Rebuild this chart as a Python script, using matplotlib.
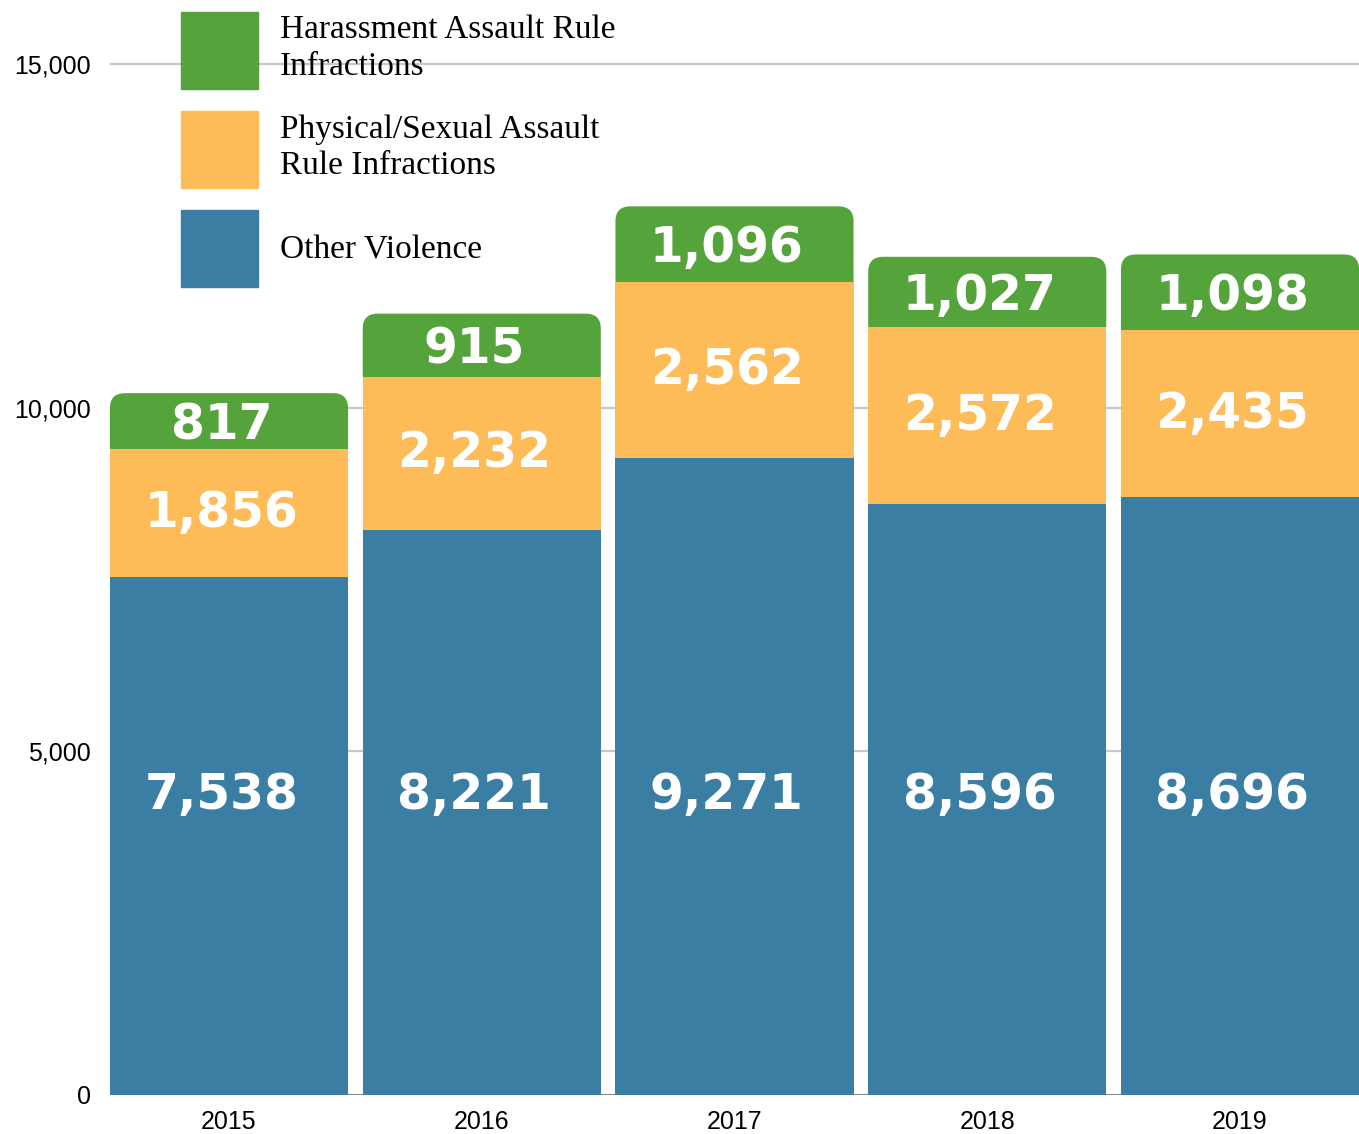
import numpy as np
import matplotlib
matplotlib.use("Agg")
import matplotlib.pyplot as plt
from matplotlib.patches import FancyBboxPatch, Patch, Rectangle


years = ["2015", "2016", "2017", "2018", "2019"]
other_violence = [7538, 8221, 9271, 8596, 8696]
physical_sexual = [1856, 2232, 2562, 2572, 2435]
harassment = [817, 915, 1096, 1027, 1098]

yticks = [0, 5000, 10000, 15000]
ytick_labels = ["0", "5,000", "10,000", "15,000"]

legend_labels = ["Harassment Assault Rule\nInfractions",
                 "Physical/Sexual Assault\nRule Infractions",
                 "Other Violence"]

blue = "#3b7ea4"
orange = "#fdbc58"
green = "#55a43b"


W, H = 1359, 1134
fig = plt.figure(figsize=(W / 100, H / 100), dpi=100)
ax = fig.add_axes([110 / W, 1 - 1095 / H, 1 - 110 / W, 1095 / H])

x = np.arange(len(years))
width = 0.942
xlim = (-0.4708, len(years) - 1 + 0.4708)
ylim = (0, 15931)
ax.set_xlim(*xlim)
ax.set_ylim(*ylim)

blue_arr = np.array(other_violence)
orange_arr = np.array(physical_sexual)
green_arr = np.array(harassment)

ax.bar(x, blue_arr, width=width, color=blue, zorder=3)
ax.bar(x, orange_arr, bottom=blue_arr, width=width, color=orange, zorder=3)
green_bars = ax.bar(x, green_arr, bottom=blue_arr + orange_arr, width=width,
                    color=green, zorder=2)

# rounded top corners for the green caps
px_x = (W - 110) / (xlim[1] - xlim[0])
px_y = 1095 / (ylim[1] - ylim[0])
radius_px = 15
r = radius_px / px_x
aspect = (radius_px / px_y) / r
for rect in green_bars:
    rect.set_visible(False)
    bx, by = rect.get_x(), rect.get_y()
    bw, bh = rect.get_width(), rect.get_height()
    ext = 500
    cap = FancyBboxPatch((bx, by - ext), bw, bh + ext,
                         boxstyle=f"round,pad=0,rounding_size={r}",
                         mutation_aspect=aspect,
                         fc=green, ec="none", zorder=2)
    ax.add_patch(cap)
    clip = Rectangle((bx - 0.05, by), bw + 0.1, bh + 2000,
                     transform=ax.transData)
    cap.set_clip_path(clip)

# value labels
lab_kw = dict(color="white", fontsize=35, fontweight="bold",
              family="DejaVu Sans", ha="center", va="center", zorder=5)
dx = -0.03
for i in range(len(years)):
    ax.text(x[i] + dx, 4365, f"{other_violence[i]:,}", **lab_kw)
    ax.text(x[i] + dx, blue_arr[i] + orange_arr[i] / 2, f"{physical_sexual[i]:,}", **lab_kw)
    ax.text(x[i] + dx, blue_arr[i] + orange_arr[i] + green_arr[i] / 2 - 60,
            f"{harassment[i]:,}", **lab_kw)

# grid and baseline
for yv in yticks[1:]:
    ax.axhline(yv, color="#c8c8c8", lw=1.6, zorder=0)
ax.axhline(0, color="#888888", lw=2.2, zorder=1)

for s in ax.spines.values():
    s.set_visible(False)

ax.set_yticks(yticks, ytick_labels)
ax.set_xticks(x, years)
ax.tick_params(axis="y", length=0, pad=14, labelsize=18)
ax.tick_params(axis="x", length=0, pad=11, labelsize=18)
for lab in ax.get_xticklabels() + ax.get_yticklabels():
    lab.set_family("Liberation Sans")

handles = [Patch(color=green), Patch(color=orange), Patch(color=blue)]
leg = fig.legend(handles, legend_labels, loc="upper left",
                 bbox_to_anchor=(181 / W, 1 - 12 / H),
                 frameon=False, borderpad=0, borderaxespad=0,
                 handlelength=2.31, handleheight=3.18, handletextpad=0.66,
                 labelspacing=0.66,
                 prop={"family": "Liberation Serif", "size": 24})
for t in leg.get_texts():
    t.set_linespacing(1.25)

fig.savefig("out.png", dpi=100)
